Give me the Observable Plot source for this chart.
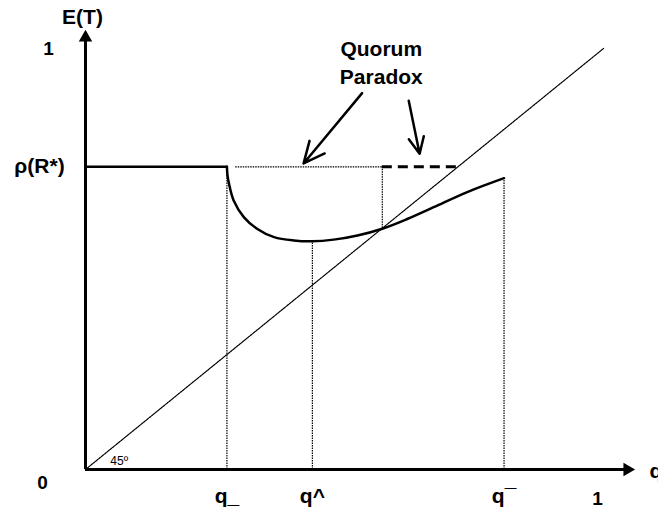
<!DOCTYPE html>
<html>
<head>
<meta charset="utf-8">
<script src="https://cdn.jsdelivr.net/npm/d3@7"></script>
<script src="https://cdn.jsdelivr.net/npm/@observablehq/plot@0.6"></script>
<style>
  html, body { margin: 0; padding: 0; background: #fff; }
  svg { overflow: visible; }
</style>
</head>
<body>
<div id="chart"></div>
<script>
// ---- data ----
const rho = 0.719;          // ρ(R*)
const qLow = 0.273;         // q_
const qHat = 0.438;         // q^
const qCross = 0.573;       // crossing with 45° line
const qBar = 0.808;         // q¯
const minY = 0.542;         // E(T) at q^
const endY = 0.692;         // E(T) at q¯

const flatX = [0, qLow];
const curveX = [0.273, 0.274, 0.277, 0.286, 0.306, 0.331, 0.364, 0.402, 0.438, 0.479, 0.525, 0.573, 0.621, 0.672, 0.737, 0.808];
const curveY = [0.719, 0.700, 0.679, 0.639, 0.599, 0.572, 0.552, 0.544, 0.542, 0.546, 0.556, 0.572, 0.595, 0.623, 0.659, 0.692];

const xTickValues = [qLow, qHat, qBar];
const xTickLabels = ["q_", "q^", "q\u00AF"];
const xOneLabel = "1";

const diagX = [0, 1];
const dottedStartX = 0.290;

const annotationLines = ["Quorum", "Paradox"];
const annotationY = [0.998, 0.931];
const annotationX = 0.571;
const arrowX1 = [0.534, 0.624], arrowY1 = [0.894, 0.876];
const arrowX2 = [0.421, 0.645], arrowY2 = [0.727, 0.750];

// ---- tables built from the arrays ----
const flat = flatX.map(x => ({x, y: rho}));
const curve = curveX.map((x, i) => ({x, y: curveY[i]}));
const diag = diagX.map(x => ({x, y: x}));
const xTicks = xTickValues.map((x, i) => ({x, label: xTickLabels[i]}));
const verticals = [
  {x: qLow, y1: 0, y2: rho},
  {x: qHat, y1: 0, y2: minY},
  {x: qCross, y1: qCross, y2: rho},
  {x: qBar, y1: 0, y2: endY}
];
const arrows = arrowX1.map((x1, i) => ({x1, y1: arrowY1[i], x2: arrowX2[i], y2: arrowY2[i]}));
const annot = annotationLines.map((t, i) => ({x: annotationX, y: annotationY[i], t}));

const bold = {fontFamily: "'Liberation Sans', Arial, Helvetica, sans-serif", fontWeight: "bold", fontSize: 21, fill: "black"};
const dotted = {stroke: "black", strokeWidth: 1.2, strokeDasharray: "1.5,1"};

const chart = Plot.plot({
  width: 658,
  height: 508,
  marginLeft: 85,
  marginRight: 55,
  marginTop: 48,
  marginBottom: 39,
  x: {domain: [0, 1], axis: null},
  y: {domain: [0, 1], axis: null},
  style: {background: "white"},
  marks: [
    // 45° line
    Plot.line(diag, {x: "x", y: "y", ...dotted}),
    // dotted verticals
    Plot.ruleX(verticals, {x: "x", y1: "y1", y2: "y2", ...dotted}),
    // dotted horizontal at ρ(R*)
    Plot.ruleY([rho], {x1: dottedStartX, x2: qCross, ...dotted}),
    // thick dashed part at ρ(R*)
    Plot.ruleY([rho], {x1: qCross, x2: rho, stroke: "black", strokeWidth: 3, strokeDasharray: "10,6"}),
    // E(T) flat part and curve
    Plot.line(flat, {x: "x", y: "y", stroke: "black", strokeWidth: 2.5}),
    Plot.line(curve, {x: "x", y: "y", stroke: "black", strokeWidth: 2.5, curve: "catmull-rom"}),
    // axes
    Plot.ruleX([0], {y1: 0, y2: 1.026, stroke: "black", strokeWidth: 3}),
    Plot.ruleY([0], {x1: 0, x2: 1.046, stroke: "black", strokeWidth: 3}),
    Plot.dot([{x: 0, y: 1.026}], {x: "x", y: "y", symbol: "triangle", r: 5, fill: "black", stroke: null}),
    Plot.dot([{x: 1.046, y: 0}], {x: "x", y: "y", symbol: "triangle", r: 5, fill: "black", stroke: null, rotate: 90}),
    // annotation arrows
    Plot.arrow(arrows, {x1: "x1", y1: "y1", x2: "x2", y2: "y2", stroke: "black", strokeWidth: 2.5, headLength: 14, headAngle: 50}),
    // texts
    Plot.text(annot, {x: "x", y: "y", text: "t", ...bold, letterSpacing: 1.5}),
    Plot.text(["E(T)"], {x: 0, y: 1.074, text: d => d, dx: -3, ...bold, letterSpacing: 1}),
    Plot.text(["1"], {x: 0, y: 1, text: d => d, dx: -37, ...bold, fontSize: 19}),
    Plot.text(["\u03C1(R*)"], {x: 0, y: rho, text: d => d, dx: -46, dy: -1, ...bold, letterSpacing: 1}),
    Plot.text(["0"], {x: 0, y: 0, text: d => d, dx: -43, dy: 13, ...bold, fontSize: 19}),
    Plot.text(xTicks, {x: "x", y: 0, text: "label", dx: 0, dy: 27, ...bold, letterSpacing: 1}),
    Plot.text([xOneLabel], {x: 1, y: 0, text: d => d, dx: -6, dy: 29, ...bold, fontSize: 19}),
    Plot.text(["q"], {x: 1.089, y: 0, text: d => d, textAnchor: "start", dy: 2, ...bold}),
    Plot.text(["45\u00BA"], {x: 0.048, y: 0.021, text: d => d, textAnchor: "start", fontFamily: "'Liberation Sans', Arial, sans-serif", fontSize: 12, fill: "black"})
  ]
});
document.getElementById("chart").appendChild(chart);
</script>
</body>
</html>
